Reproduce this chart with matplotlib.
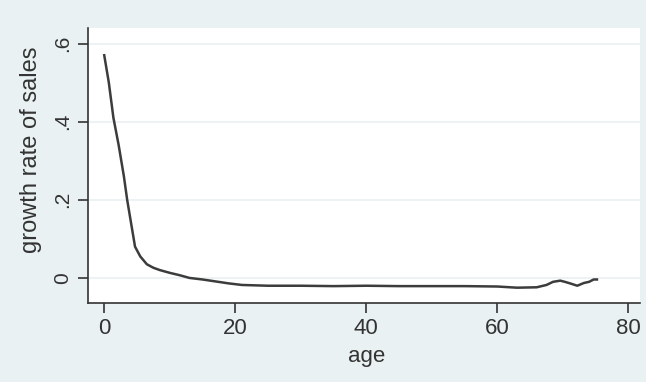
import matplotlib.pyplot as plt
import numpy as np

plt.rcParams['font.family'] = ['Liberation Sans', 'DejaVu Sans']

age = [0, 0.7, 1.4, 2.2, 3.0, 3.5, 4.0, 4.7, 5.5, 6.5, 7.5, 8.5, 10, 11.5, 13, 15, 17, 19, 21,
       25, 30, 35, 40, 45, 50, 55, 60, 63, 66, 67.5, 68.5, 69.6, 70.3, 71.1, 72.2, 73.2, 74.0, 74.7, 75.2]
growth = [0.57, 0.50, 0.41, 0.34, 0.26, 0.20, 0.15, 0.08, 0.055, 0.035, 0.026, 0.02, 0.013, 0.007,
          0.0, -0.004, -0.009, -0.014, -0.018, -0.02, -0.02, -0.021, -0.02, -0.021, -0.021, -0.021,
          -0.022, -0.025, -0.024, -0.018, -0.01, -0.007, -0.01, -0.014, -0.02, -0.013, -0.01, -0.004, -0.004]

bg = '#eaf1f3'
txt = '#333333'
fig = plt.figure(figsize=(6.46, 3.82), dpi=100, facecolor=bg)
ax = fig.add_axes([0.136, 0.207, 0.855, 0.72])
ax.set_facecolor('white')

ax.plot(age, growth, color='#3c3c3c', lw=1.8)

ax.set_xlim(-2.5, 81.8)
ax.set_ylim(-0.064, 0.64)
ax.set_xticks([0, 20, 40, 60, 80])
ax.set_yticks([0, 0.2, 0.4, 0.6])
ax.set_yticklabels(['0', '.2', '.4', '.6'], rotation=90, va='center')
ax.grid(axis='y', color=bg, lw=1.2)
ax.set_axisbelow(True)

for s in ['top', 'right']:
    ax.spines[s].set_visible(False)
for s in ['left', 'bottom']:
    ax.spines[s].set_color(txt)
    ax.spines[s].set_linewidth(1.2)
ax.tick_params(direction='out', length=7, width=1.2, colors=txt, pad=4)
ax.tick_params(axis='x', labelsize=16)
ax.tick_params(axis='y', labelsize=15)

ax.set_xlabel('age', fontsize=16, color=txt, va='center')
ax.xaxis.set_label_coords(0.504, -0.196)
ax.set_ylabel('growth rate of sales', fontsize=17, color=txt, va='center')
ax.yaxis.set_label_coords(-0.103, 0.556)

fig.savefig('out.png', dpi=100, facecolor=bg)
